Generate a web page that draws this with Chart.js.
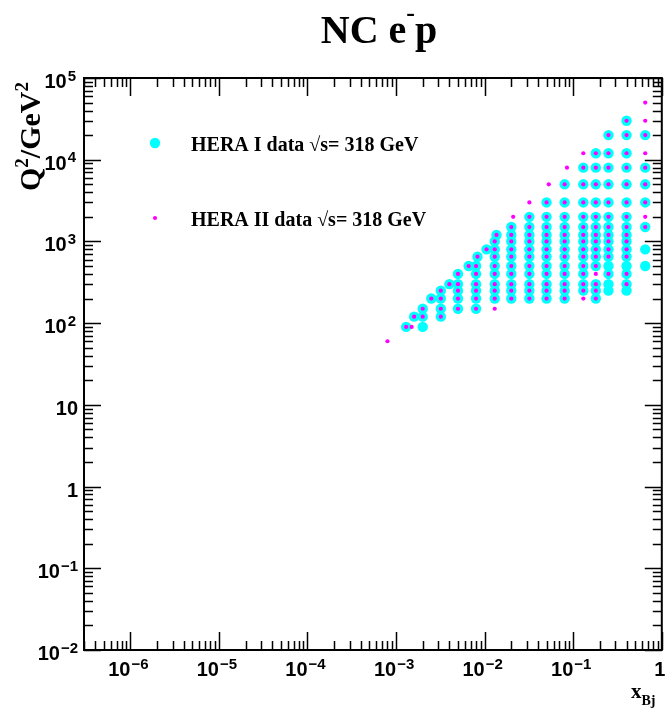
<!DOCTYPE html>
<html>
<head>
<meta charset="utf-8">
<script src="https://cdn.jsdelivr.net/npm/chart.js@4.4.0/dist/chart.umd.min.js"></script>
<style>
  html, body { margin: 0; padding: 0; background: #fff; }
</style>
</head>
<body>
<canvas id="kinPlane" width="667" height="709"></canvas>
<script>
// Q2 bins (GeV^2) and the x values measured in each bin
const q2Bins = [60, 90, 120, 150, 200, 250, 300, 400, 500, 650, 800, 1000, 1200, 1500, 2000, 3000, 5000, 8000, 12000, 20000, 30000, 50000];

const heraIx = [
  [],
  [0.0013, 0.002],
  [0.0016, 0.002, 0.0032],
  [0.002, 0.0032, 0.005, 0.008],
  [0.0025, 0.0032, 0.005, 0.008, 0.013, 0.02, 0.032, 0.05, 0.08, 0.18],
  [0.0032, 0.005, 0.008, 0.013, 0.02, 0.032, 0.05, 0.08, 0.13, 0.18, 0.25, 0.4],
  [0.004, 0.005, 0.008, 0.013, 0.02, 0.032, 0.05, 0.08, 0.13, 0.18, 0.25, 0.4],
  [0.005, 0.008, 0.013, 0.02, 0.032, 0.05, 0.08, 0.13, 0.25, 0.4],
  [0.0066, 0.008, 0.013, 0.02, 0.032, 0.05, 0.08, 0.13, 0.18, 0.25, 0.4, 0.65],
  [0.0083, 0.013, 0.02, 0.032, 0.05, 0.08, 0.13, 0.18, 0.25, 0.4],
  [0.0105, 0.013, 0.02, 0.032, 0.05, 0.08, 0.13, 0.18, 0.25, 0.4, 0.65],
  [0.013, 0.02, 0.032, 0.05, 0.08, 0.13, 0.18, 0.25, 0.4],
  [0.0136, 0.02, 0.032, 0.05, 0.08, 0.13, 0.18, 0.25, 0.4],
  [0.02, 0.032, 0.05, 0.08, 0.13, 0.18, 0.25, 0.4, 0.65],
  [0.032, 0.05, 0.08, 0.13, 0.18, 0.25, 0.4],
  [0.05, 0.08, 0.13, 0.18, 0.25, 0.4, 0.65],
  [0.08, 0.13, 0.18, 0.25, 0.4, 0.65],
  [0.13, 0.18, 0.25, 0.4, 0.65],
  [0.18, 0.25, 0.4],
  [0.25, 0.4, 0.65],
  [0.4],
  []
];

const heraIIx = [
  [0.0008],
  [0.0013, 0.0015],
  [0.0016, 0.002, 0.0032],
  [0.002, 0.0032, 0.005, 0.008, 0.013],
  [0.0025, 0.0032, 0.005, 0.008, 0.013, 0.02, 0.032, 0.05, 0.08, 0.13, 0.18],
  [0.0032, 0.005, 0.008, 0.013, 0.02, 0.032, 0.05, 0.08, 0.13, 0.18],
  [0.004, 0.005, 0.008, 0.013, 0.02, 0.032, 0.05, 0.08, 0.13, 0.18, 0.4],
  [0.005, 0.008, 0.013, 0.02, 0.032, 0.05, 0.08, 0.13, 0.18, 0.25, 0.4],
  [0.0066, 0.008, 0.013, 0.02, 0.032, 0.05, 0.08, 0.13, 0.18],
  [0.0083, 0.013, 0.02, 0.032, 0.05, 0.08, 0.13, 0.18, 0.25, 0.4],
  [0.0105, 0.013, 0.02, 0.032, 0.05, 0.08, 0.13, 0.18, 0.25, 0.4],
  [0.013, 0.02, 0.032, 0.05, 0.08, 0.13, 0.18, 0.25, 0.4],
  [0.0136, 0.02, 0.032, 0.05, 0.08, 0.13, 0.18, 0.25, 0.4],
  [0.02, 0.032, 0.05, 0.08, 0.13, 0.18, 0.25, 0.4, 0.65],
  [0.021, 0.032, 0.05, 0.08, 0.13, 0.18, 0.25, 0.4, 0.65],
  [0.032, 0.05, 0.08, 0.13, 0.18, 0.25, 0.4, 0.65],
  [0.053, 0.08, 0.13, 0.18, 0.25, 0.4, 0.65],
  [0.085, 0.13, 0.18, 0.25, 0.4, 0.65],
  [0.13, 0.18, 0.25, 0.4, 0.65],
  [0.25, 0.4, 0.65],
  [0.4, 0.65],
  [0.65]
];

// decade exponents that get a labelled major tick
const xDecades = [-6, -5, -4, -3, -2, -1, 0];
const yDecades = [-2, -1, 0, 1, 2, 3, 4, 5];

const seriesNames = ['HERA I data \u221As= 318 GeV', 'HERA II data \u221As= 318 GeV'];

function toPoints(xsPerBin) {
  const pts = [];
  xsPerBin.forEach((xs, i) => xs.forEach(x => pts.push({ x: x, y: q2Bins[i] })));
  return pts;
}

const SERIF = '"Liberation Serif", "Times New Roman", serif';
const SANS = '"Liberation Sans", Arial, sans-serif';

// "10^k" style label pieces
function powParts(k) {
  if (k === 0) return ['1', ''];
  if (k === 1) return ['10', ''];
  return ['10', (k < 0 ? '\u2212' : '') + Math.abs(k)];
}

function labelWidth(ctx, parts) {
  ctx.font = 'bold 20px ' + SANS;
  let w = ctx.measureText(parts[0]).width;
  if (parts[1]) { ctx.font = 'bold 15px ' + SANS; w += ctx.measureText(parts[1]).width + 1; }
  return w;
}

function drawLabel(ctx, parts, x, baseY) {
  ctx.textAlign = 'left';
  ctx.textBaseline = 'alphabetic';
  ctx.font = 'bold 20px ' + SANS;
  ctx.fillText(parts[0], x, baseY);
  if (parts[1]) {
    const w = ctx.measureText(parts[0]).width + 1;
    ctx.font = 'bold 15px ' + SANS;
    ctx.fillText(parts[1], x + w, baseY - 7.5);
  }
}

// draws runs of [text, fontSize, rise] one after another
function drawRuns(ctx, runs, x, y) {
  ctx.textAlign = 'left';
  ctx.textBaseline = 'alphabetic';
  runs.forEach(r => {
    ctx.font = 'bold ' + r[1] + 'px ' + SERIF;
    ctx.fillText(r[0], x, y - r[2]);
    x += ctx.measureText(r[0]).width;
  });
  return x;
}
function runsWidth(ctx, runs) {
  let w = 0;
  runs.forEach(r => { ctx.font = 'bold ' + r[1] + 'px ' + SERIF; w += ctx.measureText(r[0]).width; });
  return w;
}

const rootFrame = {
  id: 'rootFrame',
  afterDraw(chart) {
    const ctx = chart.ctx;
    const a = chart.chartArea;
    const xs = chart.scales.x, ys = chart.scales.y;
    ctx.save();
    ctx.fillStyle = '#000';
    ctx.strokeStyle = '#000';

    // ticks on all four sides, pointing into the frame
    ctx.lineWidth = 1.5;
    ctx.beginPath();
    for (let k = -7; k <= 0; k++) {
      for (let m = 1; m <= 9; m++) {
        const v = m * Math.pow(10, k);
        if (v < xs.min || v > xs.max) continue;
        const px = Math.round(xs.getPixelForValue(v)) + 0.5;
        const len = m === 1 ? 18 : 9;
        ctx.moveTo(px, a.bottom); ctx.lineTo(px, a.bottom - len);
        ctx.moveTo(px, a.top); ctx.lineTo(px, a.top + len);
      }
    }
    for (let k = -2; k <= 5; k++) {
      for (let m = 1; m <= 9; m++) {
        const v = m * Math.pow(10, k);
        if (v < ys.min || v > ys.max * 1.0001) continue;
        const py = Math.round(ys.getPixelForValue(v)) + 0.5;
        const len = m === 1 ? 17 : 9;
        ctx.moveTo(a.left, py); ctx.lineTo(a.left + len, py);
        ctx.moveTo(a.right, py); ctx.lineTo(a.right - len, py);
      }
    }
    ctx.stroke();

    // frame
    ctx.lineWidth = 2;
    ctx.strokeRect(a.left, a.top, a.right - a.left, a.bottom - a.top);

    // x tick labels
    xDecades.forEach(k => {
      const parts = powParts(k);
      const px = xs.getPixelForValue(Math.pow(10, k));
      const w = labelWidth(ctx, parts);
      drawLabel(ctx, parts, px - 2 - w / 2, 676);
    });
    // y tick labels
    yDecades.forEach(k => {
      const parts = powParts(k);
      const py = ys.getPixelForValue(Math.pow(10, k));
      const w = labelWidth(ctx, parts);
      drawLabel(ctx, parts, (k > 1 ? 76 : 78) - w, py + 10);
    });

    // title
    const titleRuns = [['NC e', 40, 0], ['-', 26, 22], ['p', 40, 0]];
    drawRuns(ctx, titleRuns, 379 - runsWidth(ctx, titleRuns) / 2, 43);

    // axis titles
    drawRuns(ctx, [['x', 21, 0], ['Bj', 14, -7]], 631, 698);
    ctx.save();
    ctx.translate(40, 191);
    ctx.rotate(-Math.PI / 2);
    drawRuns(ctx, [['Q', 30, 0], ['2', 19, 12], ['/GeV', 30, 0], ['2', 19, 12]], 0, 0);
    ctx.restore();

    // legend
    const d0 = chart.data.datasets[0], d1 = chart.data.datasets[1];
    ctx.fillStyle = d0.backgroundColor;
    ctx.beginPath(); ctx.arc(155, 143, d0.pointRadius, 0, 2 * Math.PI); ctx.fill();
    ctx.fillStyle = d1.backgroundColor;
    ctx.beginPath(); ctx.arc(155, 218, d1.pointRadius, 0, 2 * Math.PI); ctx.fill();
    ctx.fillStyle = '#000';
    ctx.font = 'bold 20px ' + SERIF;
    ctx.textAlign = 'left';
    ctx.fillText(d0.label, 191, 151);
    ctx.fillText(d1.label, 191, 226);

    ctx.restore();
  }
};

new Chart(document.getElementById('kinPlane'), {
  type: 'scatter',
  data: {
    datasets: [
      {
        label: seriesNames[0],
        data: toPoints(heraIx),
        backgroundColor: '#00ffff',
        pointRadius: 5.2,
        pointBorderWidth: 0,
        order: 2
      },
      {
        label: seriesNames[1],
        data: toPoints(heraIIx),
        backgroundColor: '#ff00ff',
        pointRadius: 2.1,
        pointBorderWidth: 0,
        order: 1
      }
    ]
  },
  options: {
    responsive: false,
    animation: false,
    devicePixelRatio: 1,
    layout: { padding: { top: 78, right: 3, left: 0, bottom: 0 } },
    plugins: { legend: { display: false }, tooltip: { enabled: false } },
    scales: {
      x: {
        type: 'logarithmic',
        min: 3e-7,
        max: 1,
        ticks: { display: false },
        grid: { display: false },
        border: { display: false },
        afterFit: s => { s.height = 59; }
      },
      y: {
        type: 'logarithmic',
        min: 0.01,
        max: 1e5,
        ticks: { display: false },
        grid: { display: false },
        border: { display: false },
        afterFit: s => { s.width = 84; }
      }
    }
  },
  plugins: [rootFrame]
});
</script>
</body>
</html>
